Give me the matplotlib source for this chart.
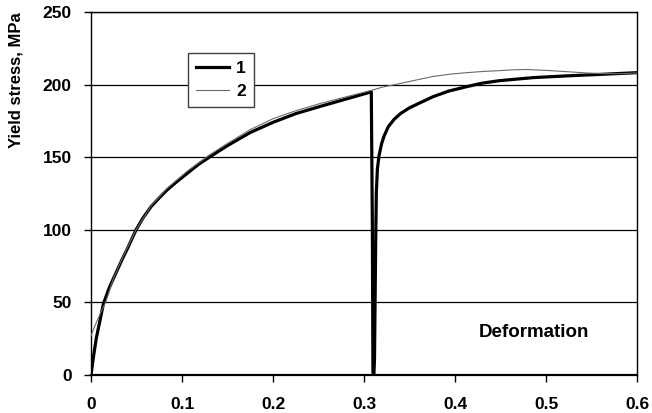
import matplotlib
matplotlib.use("Agg")
import matplotlib.pyplot as plt

plt.rcParams['font.family'] = ['Liberation Sans', 'DejaVu Sans']
plt.rcParams['font.weight'] = 'bold'

# Curve 1: loading, unloading at ~0.31, reloading
x1 = [0, 0.003, 0.006, 0.01, 0.0136, 0.02, 0.025, 0.0348, 0.04, 0.0495,
      0.057, 0.066, 0.075, 0.0835, 0.094, 0.106, 0.118, 0.13, 0.15, 0.175,
      0.2, 0.225, 0.252, 0.28, 0.308,
      0.3092, 0.3098, 0.3108, 0.3115, 0.312, 0.3128, 0.3135, 0.3147, 0.3165,
      0.3194, 0.322, 0.3267, 0.333, 0.34, 0.35, 0.36, 0.376, 0.393, 0.413,
      0.43, 0.449, 0.486, 0.523, 0.559, 0.6]
y1 = [0, 14, 26, 38, 49, 60, 67, 80.4, 87, 100,
      108, 116, 122, 127.4, 133, 139, 145, 150, 158, 167,
      174, 180, 185, 190, 195,
      100, 2, 0, 10, 40, 90, 125, 142, 151,
      159.5, 164.5, 171, 176, 180, 184, 187, 191.7, 195.5, 198.6,
      201, 202.7, 204.8, 206, 207, 208.2]

# Curve 2: monotonic loading
x2 = [0, 0.005, 0.01, 0.016, 0.025, 0.0348, 0.0495, 0.066, 0.0835, 0.106,
      0.13, 0.15, 0.175, 0.2, 0.225, 0.252, 0.28, 0.308, 0.32, 0.34,
      0.36, 0.376, 0.395, 0.413, 0.43, 0.449, 0.465, 0.478, 0.5, 0.515,
      0.53, 0.545, 0.56, 0.58, 0.6]
y2 = [27, 35, 42, 50, 67, 81, 100, 116.5, 128.5, 140.5,
      151.5, 159.5, 169, 176.5, 182, 187, 191.5, 196, 198.2, 200.8,
      203.5, 205.6, 207.2, 208.2, 209, 209.6, 210.2, 210.4, 209.8, 209.2,
      208.6, 208, 207.6, 207.5, 208]

xticks = [0, 0.1, 0.2, 0.3, 0.4, 0.5, 0.6]
xticklabels = ['0', '0.1', '0.2', '0.3', '0.4', '0.5', '0.6']
yticks = [0, 50, 100, 150, 200, 250]

fig = plt.figure(figsize=(6.52, 4.13), dpi=100)
ax = fig.add_axes([0.1396, 0.092, 0.8374, 0.879])

ax.plot(x1, y1, color='black', lw=2.3, label='1', zorder=3)
ax.plot(x2, y2, color='#6a6a6a', lw=0.8, label='2', zorder=4)

ax.set_xlim(0, 0.6)
ax.set_ylim(0, 250)
ax.set_xticks(xticks)
ax.set_xticklabels(xticklabels)
ax.set_yticks(yticks)
ax.yaxis.grid(True, color='black', lw=0.9)
ax.set_axisbelow(True)

for s in ['left', 'right', 'top']:
    ax.spines[s].set_linewidth(1.0)
ax.spines['bottom'].set_linewidth(1.6)
ax.tick_params(axis='x', direction='out', length=5, width=1, pad=11, labelsize=12.5)
ax.tick_params(axis='y', direction='out', length=5, width=1, pad=9, labelsize=12.5)
for lab in ax.get_xticklabels() + ax.get_yticklabels():
    lab.set_fontweight('bold')

fig.text(0.024, 0.805, 'Yield stress, MPa', rotation=90, ha='center', va='center',
         fontsize=12, fontweight='bold')
ax.text(0.487, 29, 'Deformation', ha='center', va='center', fontsize=13.5,
        fontweight='bold')

leg = ax.legend(loc='upper left', bbox_to_anchor=(0.178, 0.887), frameon=True,
                fancybox=False, framealpha=1, edgecolor='#404040',
                prop={'weight': 'bold', 'size': 12.5}, handlelength=1.9,
                handletextpad=0.4, borderpad=0.45, labelspacing=0.45,
                borderaxespad=0)
leg.get_frame().set_linewidth(1.0)

fig.savefig('out.png', dpi=100)
